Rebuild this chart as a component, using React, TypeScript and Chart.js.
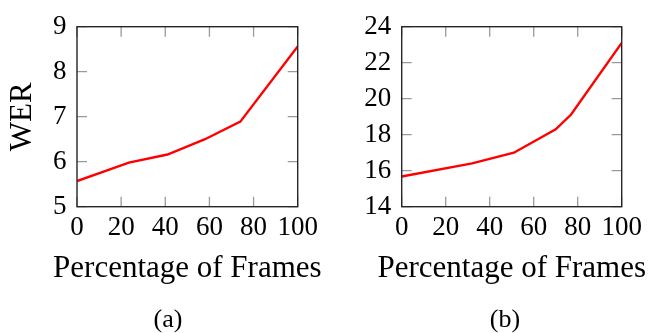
import React, { useEffect, useRef } from "react";
import { Chart, registerables } from "chart.js";

Chart.register(...registerables);

// Shared x axis: percentage of frames
const xTicks = [0, 20, 40, 60, 80, 100];
const xTitle = "Percentage of Frames";

// Panel (a)
const framesA = [0, 23.5, 41, 58, 74, 100];
const werA = [5.57, 5.98, 6.16, 6.5, 6.89, 8.56];
const yTicksA = [5, 6, 7, 8, 9];
const yTitleA = "WER";

// Panel (b)
const framesB = [0, 32, 51, 70, 77, 100];
const werB = [15.68, 16.41, 17.0, 18.3, 19.12, 23.1];
const yTicksB = [14, 16, 18, 20, 22, 24];

const captions = ["(a)", "(b)"];

const FONT = "'Liberation Serif', 'Times New Roman', serif";

// Inward tick marks on all four sides, a closed frame around the plot area,
// and the x-axis title drawn at full width under the tick labels
const framePlugin = {
  id: "frame",
  beforeDatasetsDraw(chart: any) {
    const { ctx, chartArea: a, scales } = chart;
    const len = 10;
    ctx.save();
    ctx.strokeStyle = "#9a9a9a";
    ctx.lineWidth = 1.3;
    ctx.beginPath();
    for (const t of scales.x.ticks) {
      const px = scales.x.getPixelForValue(t.value);
      ctx.moveTo(px, a.bottom);
      ctx.lineTo(px, a.bottom - len);
      ctx.moveTo(px, a.top);
      ctx.lineTo(px, a.top + len);
    }
    for (const t of scales.y.ticks) {
      const py = scales.y.getPixelForValue(t.value);
      ctx.moveTo(a.left, py);
      ctx.lineTo(a.left + len, py);
      ctx.moveTo(a.right, py);
      ctx.lineTo(a.right - len, py);
    }
    ctx.stroke();
    ctx.restore();
  },
  afterDatasetsDraw(chart: any) {
    const { ctx, chartArea: a } = chart;
    ctx.save();
    ctx.strokeStyle = "#262626";
    ctx.lineWidth = 1.4;
    ctx.strokeRect(a.left, a.top, a.right - a.left, a.bottom - a.top);
    ctx.restore();
  },
  afterDraw(chart: any) {
    const { ctx, chartArea: a } = chart;
    ctx.save();
    ctx.fillStyle = "#000";
    ctx.font = `31px ${FONT}`;
    ctx.textAlign = "center";
    ctx.textBaseline = "alphabetic";
    ctx.fillText(xTitle, (a.left + a.right) / 2, a.bottom + 70.6);
    ctx.restore();
  },
};

type PanelProps = {
  frames: number[];
  wer: number[];
  yTicks: number[];
  yTitle?: string;
  yAxisWidth: number;
  left: number;
};

function Panel({ frames, wer, yTicks, yTitle, yAxisWidth, left }: PanelProps) {
  const ref = useRef<HTMLCanvasElement>(null);

  useEffect(() => {
    if (!ref.current) return;
    const chart = new Chart(ref.current, {
      type: "line",
      data: {
        datasets: [
          {
            data: frames.map((f, i) => ({ x: f, y: wer[i] })),
            borderColor: "#ff0000",
            borderWidth: 2.4,
            pointRadius: 0,
            tension: 0,
            fill: false,
          },
        ],
      },
      options: {
        responsive: false,
        animation: false,
        events: [],
        layout: { padding: { top: 24.3, right: 26.3, left: 0, bottom: 0 } },
        plugins: {
          legend: { display: false },
          tooltip: { enabled: false },
          title: { display: false },
        },
        scales: {
          x: {
            type: "linear",
            min: xTicks[0],
            max: xTicks[xTicks.length - 1],
            grid: { display: false, drawTicks: false },
            border: { display: false },
            afterBuildTicks: (s: any) => {
              s.ticks = xTicks.map((v) => ({ value: v }));
            },
            afterFit: (s: any) => {
              s.height = 333 - 206.7;
            },
            ticks: {
              padding: 5,
              color: "#000",
              font: { family: FONT, size: 27 },
              maxRotation: 0,
              autoSkip: false,
            },
            title: { display: false },
          },
          y: {
            type: "linear",
            min: yTicks[0],
            max: yTicks[yTicks.length - 1],
            grid: { display: false, drawTicks: false },
            border: { display: false },
            afterBuildTicks: (s: any) => {
              s.ticks = yTicks.map((v) => ({ value: v }));
            },
            afterFit: (s: any) => {
              s.width = yAxisWidth;
            },
            ticks: {
              padding: 10.5,
              color: "#000",
              font: { family: FONT, size: 27 },
              autoSkip: false,
            },
            title: {
              display: !!yTitle,
              text: yTitle || "",
              color: "#000",
              font: { family: FONT, size: 31, lineHeight: "28px" },
              padding: { top: 9.3, bottom: 0 },
            },
          },
        },
      },
      plugins: [framePlugin],
    } as any);
    return () => chart.destroy();
  }, []);

  return (
    <canvas
      ref={ref}
      width={324}
      height={333}
      style={{ position: "absolute", left, top: 0, width: 324, height: 333, display: "block" }}
    />
  );
}

export default function App() {
  const captionStyle: React.CSSProperties = {
    position: "absolute",
    top: 306,
    width: 100,
    textAlign: "center",
    fontFamily: FONT,
    fontSize: 26,
    lineHeight: "26px",
    color: "#000",
  };
  return (
    <div
      style={{
        position: "fixed",
        left: 0,
        top: 0,
        width: 648,
        height: 333,
        background: "#fff",
        overflow: "hidden",
      }}
    >
      <Panel frames={framesA} wer={werA} yTicks={yTicksA} yTitle={yTitleA} yAxisWidth={77} left={0} />
      <Panel frames={framesB} wer={werB} yTicks={yTicksB} yAxisWidth={77.7} left={324} />
      <div style={{ ...captionStyle, left: 168 - 50 }}>{captions[0]}</div>
      <div style={{ ...captionStyle, left: 505 - 50 }}>{captions[1]}</div>
    </div>
  );
}
